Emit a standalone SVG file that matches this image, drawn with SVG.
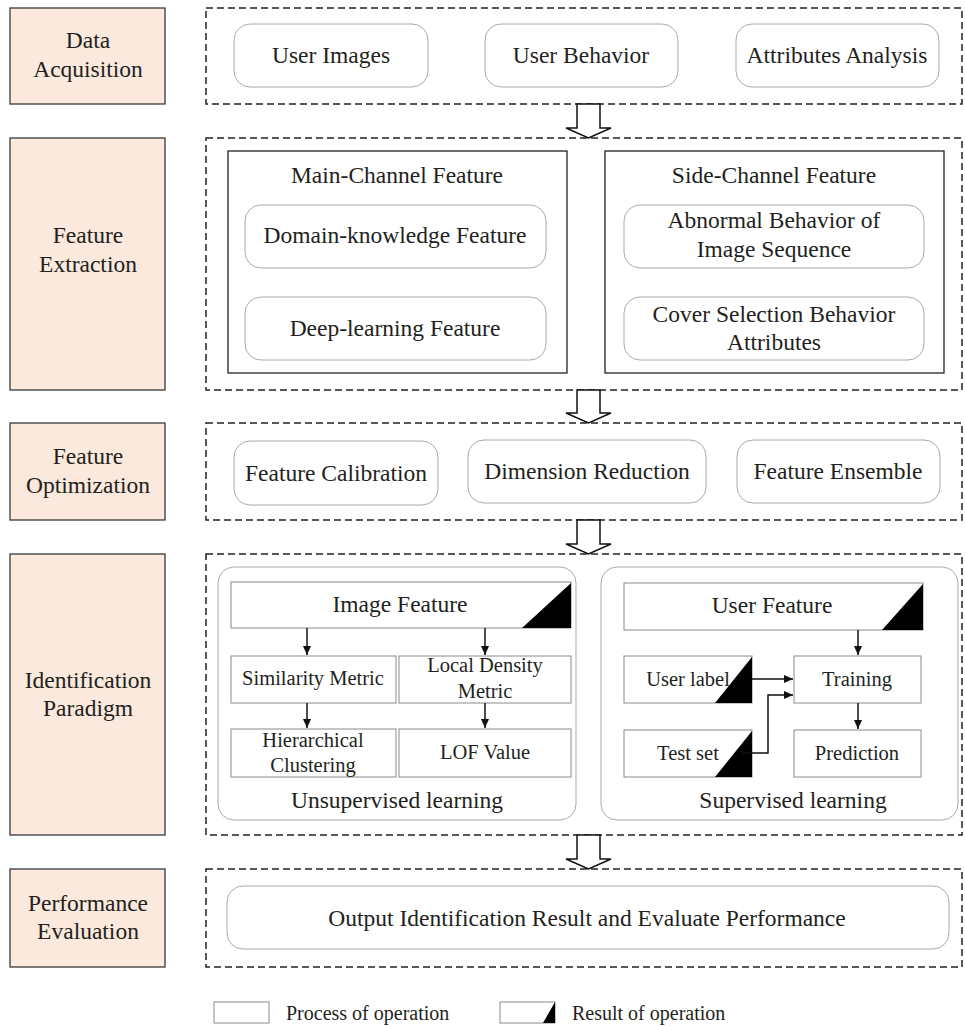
<svg xmlns="http://www.w3.org/2000/svg" width="965" height="1026" viewBox="0 0 965 1026">
<style>
text{font-family:'Liberation Serif','Times New Roman','DejaVu Serif',serif;fill:#231f20;text-anchor:middle}
.t{font-size:23.5px}
.s{font-size:20.5px}
.l{font-size:20px;text-anchor:start}
.stage{fill:#fae9dc;stroke:#3a3a3a;stroke-width:1.3}
.dash{fill:none;stroke:#222;stroke-width:1.5;stroke-dasharray:7 4}
.rr{fill:#fff;stroke:#aaa;stroke-width:1}
.frame{fill:none;stroke:#222;stroke-width:1.3}
.box{fill:#fff;stroke:#8a8a8a;stroke-width:1}
.tri{fill:#000}
.fat{fill:#fff;stroke:#111;stroke-width:1.5}
.conn{fill:none;stroke:#111;stroke-width:1.5}
</style>
<defs>
<marker id="ah" markerWidth="10" markerHeight="10" refX="9" refY="5" orient="auto" markerUnits="userSpaceOnUse">
<path d="M0,1 L9,5 L0,9 Z" fill="#111"/>
</marker>
</defs>
<g font-family="'Liberation Serif', 'Times New Roman', 'DejaVu Serif', serif">

<!-- Stage labels -->
<g id="stage-data-acquisition">
<rect class="stage" x="10" y="8" width="155" height="96"/>
<text class="t" x="88" y="48">Data</text>
<text class="t" x="88" y="77">Acquisition</text>
</g>
<g id="stage-feature-extraction">
<rect class="stage" x="10" y="138" width="155" height="252"/>
<text class="t" x="88" y="243">Feature</text>
<text class="t" x="88" y="272">Extraction</text>
</g>
<g id="stage-feature-optimization">
<rect class="stage" x="10" y="423" width="155" height="97"/>
<text class="t" x="88" y="464">Feature</text>
<text class="t" x="88" y="493">Optimization</text>
</g>
<g id="stage-identification-paradigm">
<rect class="stage" x="10" y="554" width="155" height="281"/>
<text class="t" x="88" y="688">Identification</text>
<text class="t" x="88" y="716">Paradigm</text>
</g>
<g id="stage-performance-evaluation">
<rect class="stage" x="10" y="869" width="155" height="98"/>
<text class="t" x="88" y="911">Performance</text>
<text class="t" x="88" y="939">Evaluation</text>
</g>

<!-- Section containers -->
<g id="sec-data-acquisition">
<rect class="dash" x="206" y="8" width="756" height="96"/>
</g>
<g id="user-images"><rect class="rr" x="234" y="24" width="194" height="63" rx="16"/><text class="t" x="331" y="63">User Images</text></g>
<g id="user-behavior"><rect class="rr" x="485" y="24" width="193" height="63" rx="16"/><text class="t" x="581" y="63">User Behavior</text></g>
<g id="attributes-analysis"><rect class="rr" x="736" y="24" width="203" height="63" rx="16"/><text class="t" x="837" y="63">Attributes Analysis</text></g>

<g id="sec-feature-extraction">
<rect class="dash" x="206" y="138" width="756" height="252"/>
</g>
<g id="main-channel">
<rect class="frame" x="228" y="151" width="339" height="222"/>
<text class="t" x="397" y="183">Main-Channel Feature</text>
</g>
<g id="domain-knowledge"><rect class="rr" x="245" y="205" width="301" height="63" rx="16"/><text class="t" x="395" y="243">Domain-knowledge Feature</text></g>
<g id="deep-learning"><rect class="rr" x="245" y="297" width="301" height="63" rx="16"/><text class="t" x="395" y="336">Deep-learning Feature</text></g>
<g id="side-channel">
<rect class="frame" x="605" y="151" width="339" height="222"/>
<text class="t" x="774" y="183">Side-Channel Feature</text>
</g>
<g id="abnormal-behavior"><rect class="rr" x="624" y="205" width="300" height="63" rx="16"/><text class="t" x="774" y="228">Abnormal Behavior of</text><text class="t" x="774" y="257">Image Sequence</text></g>
<g id="cover-selection"><rect class="rr" x="624" y="297" width="300" height="63" rx="16"/><text class="t" x="774" y="322">Cover Selection Behavior</text><text class="t" x="774" y="350">Attributes</text></g>

<g id="sec-feature-optimization">
<rect class="dash" x="206" y="423" width="756" height="97"/>
</g>
<g id="feature-calibration"><rect class="rr" x="234" y="441" width="204" height="64" rx="16"/><text class="t" x="336" y="481">Feature Calibration</text></g>
<g id="dimension-reduction"><rect class="rr" x="468" y="440" width="238" height="63" rx="16"/><text class="t" x="587" y="479">Dimension Reduction</text></g>
<g id="feature-ensemble"><rect class="rr" x="737" y="440" width="203" height="63" rx="16"/><text class="t" x="838" y="479">Feature Ensemble</text></g>

<g id="sec-identification-paradigm">
<rect class="dash" x="206" y="554" width="756" height="281"/>
</g>
<g id="unsupervised">
<rect class="rr" x="218" y="567" width="358" height="253" rx="16"/>
<text class="t" x="397" y="808">Unsupervised learning</text>
</g>
<g id="image-feature"><rect class="box" x="231" y="582" width="340" height="46"/><polygon class="tri" points="522,628 571,583 571,628"/><text class="t" x="400" y="612">Image Feature</text></g>
<g id="similarity-metric"><rect class="box" x="231" y="656" width="165" height="47"/><text class="s" x="313" y="685">Similarity Metric</text></g>
<g id="local-density"><rect class="box" x="399" y="656" width="172" height="47"/><text class="s" x="485" y="672">Local Density</text><text class="s" x="485" y="698">Metric</text></g>
<g id="hierarchical-clustering"><rect class="box" x="231" y="729" width="165" height="48"/><text class="s" x="313" y="747">Hierarchical</text><text class="s" x="313" y="772">Clustering</text></g>
<g id="lof-value"><rect class="box" x="399" y="729" width="172" height="48"/><text class="s" x="485" y="759">LOF Value</text></g>

<g id="supervised">
<rect class="rr" x="601" y="567" width="357" height="253" rx="16"/>
<text class="t" x="793" y="808">Supervised learning</text>
</g>
<g id="user-feature"><rect class="box" x="624" y="583" width="299" height="47"/><polygon class="tri" points="882,630 923,584 923,630"/><text class="t" x="772" y="613">User Feature</text></g>
<g id="user-label"><rect class="box" x="624" y="656" width="128" height="47"/><polygon class="tri" points="715,703 752,657 752,703"/><text class="s" x="688" y="686">User label</text></g>
<g id="training"><rect class="box" x="794" y="656" width="127" height="47"/><text class="s" x="857" y="686">Training</text></g>
<g id="test-set"><rect class="box" x="624" y="730" width="128" height="47"/><polygon class="tri" points="715,777 752,731 752,777"/><text class="s" x="688" y="760">Test set</text></g>
<g id="prediction"><rect class="box" x="794" y="730" width="127" height="47"/><text class="s" x="857" y="760">Prediction</text></g>

<g id="sec-performance-evaluation">
<rect class="dash" x="206" y="869" width="756" height="98"/>
</g>
<g id="output-result"><rect class="rr" x="227" y="886" width="722" height="63" rx="16"/><text class="t" x="587" y="926">Output Identification Result and Evaluate Performance</text></g>

<!-- Connectors -->
<g id="connectors">
<polygon class="fat" points="577,104 600,104 600,128 611,128 588.5,138 566,128 577,128"/>
<polygon class="fat" points="577,390 600,390 600,413 611,413 588.5,423 566,413 577,413"/>
<polygon class="fat" points="577,520 600,520 600,544 611,544 588.5,554 566,544 577,544"/>
<polygon class="fat" points="577,835 600,835 600,859 611,859 588.5,869 566,859 577,859"/>
<line class="conn" x1="307" y1="628" x2="307" y2="655" marker-end="url(#ah)"/>
<line class="conn" x1="485" y1="628" x2="485" y2="655" marker-end="url(#ah)"/>
<line class="conn" x1="307" y1="703" x2="307" y2="728" marker-end="url(#ah)"/>
<line class="conn" x1="485" y1="703" x2="485" y2="728" marker-end="url(#ah)"/>
<line class="conn" x1="858" y1="630" x2="858" y2="655" marker-end="url(#ah)"/>
<line class="conn" x1="752" y1="679" x2="793" y2="679" marker-end="url(#ah)"/>
<polyline class="conn" points="742,753 768,753 768,695 793,695" marker-end="url(#ah)"/>
<line class="conn" x1="858" y1="703" x2="858" y2="729" marker-end="url(#ah)"/>
</g>

<!-- Legend -->
<g id="legend">
<rect class="box" x="214" y="1002" width="55" height="21"/>
<text class="l" x="286" y="1020">Process of operation</text>
<rect class="box" x="500" y="1002" width="55" height="21"/>
<polygon class="tri" points="543,1023 555,1002 555,1023"/>
<text class="l" x="572" y="1020">Result of operation</text>
</g>
</g>
</svg>
